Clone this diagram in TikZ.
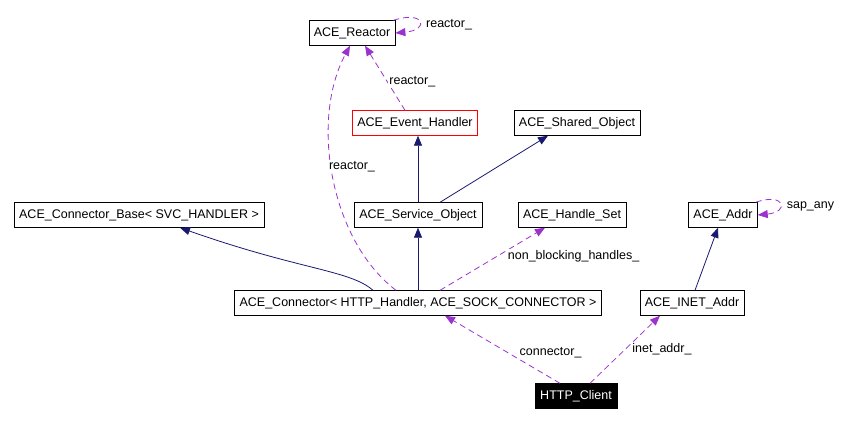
\documentclass[tikz,border=0pt]{standalone}
\usepackage{fontspec}
\setmainfont{Liberation Sans}
\usetikzlibrary{arrows.meta}
\definecolor{navy}{RGB}{25,25,112}
\definecolor{purp}{RGB}{154,50,205}
\begin{document}
\begin{tikzpicture}[x=1pt,y=-1pt,
  box/.style={draw=black,fill=white,minimum height=25pt,inner xsep=5pt,font=\fontsize{12.5}{14}\selectfont},
  lbl/.style={font=\fontsize{12.5}{14}\selectfont,fill=white,inner sep=1pt},
  inh/.style={draw=navy,line width=0.8pt,-{Triangle[length=10pt,width=8pt,fill=navy]}},
  use/.style={draw=purp,line width=0.8pt,dash pattern=on 6pt off 4pt,-{Triangle[length=10pt,width=8pt,fill=purp]}}]
\useasboundingbox (0,0) rectangle (844,424);
\node[box] (reactor) at (352,33) {ACE\_Reactor};
\node[box,draw=red] (eh) at (415,123) {ACE\_Event\_Handler};
\node[box] (so) at (577,123) {ACE\_Shared\_Object};
\node[box] (cb) at (139,215) {ACE\_Connector\_Base< SVC\_HANDLER >};
\node[box] (svc) at (418,215) {ACE\_Service\_Object};
\node[box] (hs) at (572,215) {ACE\_Handle\_Set};
\node[box] (addr) at (723,215) {ACE\_Addr};
\node[box] (conn) at (418,303) {ACE\_Connector< HTTP\_Handler, ACE\_SOCK\_CONNECTOR >};
\node[box] (inet) at (692,303) {ACE\_INET\_Addr};
\node[box,fill=black,text=white] (http) at (576,396) {HTTP\_Client};
\draw[use] (eh.north) ++(-10,0) coordinate (e1) (e1) -- (reactor.south -| 365,0) node[lbl,pos=0.45,right=1pt] {reactor\_};
\draw[use] (reactor.north east) ++(-2,0) coordinate (r1) (r1) .. controls (425,10) and (430,30) .. (reactor.east) node[lbl,pos=0.6,right=6pt] {reactor\_};
\draw[inh] (svc.north) -- (eh.south -| svc.north);
\draw[inh] (svc.north) ++(22,0) coordinate (s1) (s1) -- (so.south -| 548,0);
\draw[inh] (conn.north) ++(-45,0) coordinate (c1) (c1) .. controls (350,270) and (300,270) .. (cb.south -| 180,0);
\draw[inh] (conn.north) -- (svc.south);
\draw[use] (conn.north) ++(-22,0) coordinate (c2) (c2) .. controls (330,240) and (310,120) .. (reactor.south -| 350,0);
\node[lbl] at (352,167) {reactor\_};
\draw[use] (conn.north) ++(22,0) coordinate (c3) (c3) -- (hs.south -| 545,0) node[lbl,pos=0.5,right=14pt,yshift=3pt] {non\_blocking\_handles\_};
\draw[use] (http.north) ++(-16,0) coordinate (h1) (h1) -- (conn.south -| 445,0) node[lbl,pos=0.45,right=10pt] {connector\_};
\draw[use] (http.north) ++(14,0) coordinate (h2) (h2) -- (inet.south -| 660,0) node[lbl,pos=0.5,right=6pt] {inet\_addr\_};
\draw[inh] (inet.north) ++(3,0) coordinate (i1) (i1) -- (addr.south -| 718,0);
\draw[use] (addr.north east) ++(-2,0) coordinate (a1) (a1) .. controls (785,192) and (790,212) .. (addr.east) node[lbl,pos=0.6,right=6pt] {sap\_any};
\end{tikzpicture}
\end{document}
